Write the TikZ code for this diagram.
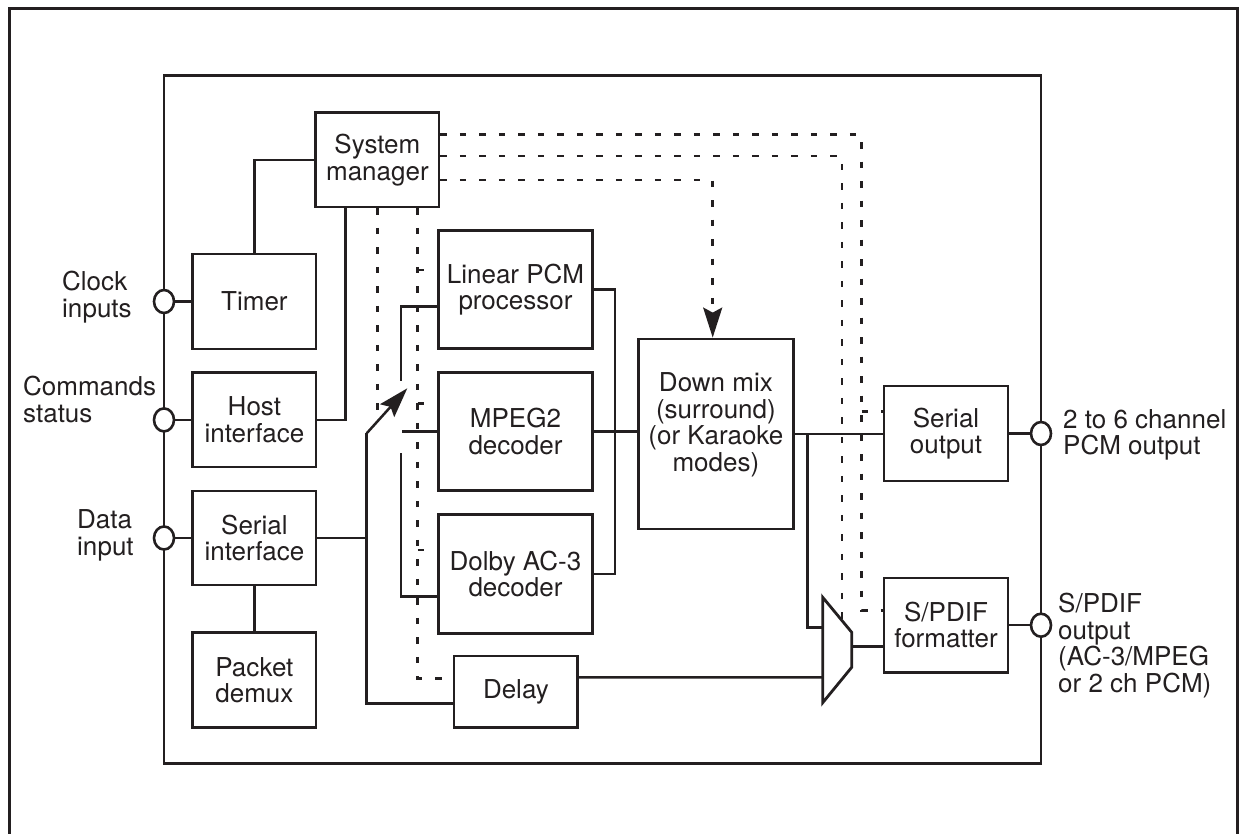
\documentclass[tikz,border=0pt]{standalone}
\usepackage{fontspec}
\setmainfont{TeX Gyre Heros}
\usetikzlibrary{arrows.meta,shapes.geometric,calc}
\definecolor{ink}{RGB}{35,31,32}
\begin{document}
\begin{tikzpicture}[x=1pt,y=-1pt,
  every node/.style={font=\fontsize{26}{26.5}\selectfont, text=ink},
  blk/.style={draw=ink, line width=2.8pt, align=center, inner sep=0pt},
  port/.style={draw=ink, fill=white, ellipse, line width=2.6pt, minimum width=20pt, minimum height=23pt, inner sep=0pt},
  wire/.style={draw=ink, line width=2.5pt},
  muxline/.style={draw=ink, line width=2.8pt, line join=miter},
  ctl/.style={draw=ink, line width=2.7pt, dash pattern=on 6.5pt off 13pt},
  tip/.style={-{Stealth[length=30pt,width=19pt,inset=5pt]}},
  lbl/.style={align=left, inner sep=0pt, anchor=north west},
  frame/.style={draw=ink, line width=2.8pt}]
\useasboundingbox (0,0) rectangle (1239,834);

% frames
\draw[frame] (9.5,834) -- (9.5,8.3) -- (1237.7,8.3) -- (1237.7,834);
\draw[frame] (164,75.3) rectangle (1041,763.3);

% blocks
\node[blk, minimum width=123.3pt, minimum height=94.3pt] (sysmgr) at (377.4,159.9) {System\\manager};
\node[blk, minimum width=123.3pt, minimum height=95pt] (timer) at (254.4,301.5) {Timer};
\node[blk, minimum width=123.3pt, minimum height=94.3pt] (host) at (254.4,419.9) {Host\\interface};
\node[blk, minimum width=123.3pt, minimum height=94pt] (serin) at (254.4,538) {Serial\\interface};
\node[blk, minimum width=123.3pt, minimum height=95.4pt] (packet) at (254.4,680) {Packet\\demux};
\node[blk, minimum width=154.4pt, minimum height=117.6pt] (lpcm) at (515.5,289.5) {Linear PCM\\processor};
\node[blk, minimum width=154.4pt, minimum height=118pt] (mpeg) at (515.5,431.7) {MPEG2\\decoder};
\node[blk, minimum width=154.4pt, minimum height=119pt] (dolby) at (515.5,573.8) {Dolby AC-3\\decoder};
\node[blk, minimum width=123.7pt, minimum height=71.7pt] (delay) at (515.9,691.9) {Delay};
\node[blk, minimum width=154.8pt, minimum height=190pt] (dmix) at (715.9,434) {};
\node[align=center, inner sep=0pt] (dmixt) at (715.9,425) {Down mix\\(surround)\\(or Karaoke\\modes)};
\node[blk, minimum width=124pt, minimum height=95pt] (serout) at (946,433.5) {Serial\\output};
\node[blk, minimum width=124pt, minimum height=94.3pt] (spdif) at (946,625.2) {S/PDIF\\formatter};

% ports
\node[port] (pclk) at (164,301.5) {};
\node[port] (pcmd) at (164,419.9) {};
\node[port] (pdata) at (164,538) {};
\node[port] (ppcm) at (1041,433.5) {};
\node[port] (pspdif) at (1041,625.2) {};

% port labels
\node[lbl] (lclk) at (62,271) {Clock\\inputs};
\node[lbl] (lcmd) at (23,376) {Commands\\status};
\node[lbl] (ldata) at (77,509.5) {Data\\input};
\node[lbl] (lpcmout) at (1063,409) {2 to 6 channel\\PCM output};
\node[lbl] (lspdif) at (1058,593) {S/PDIF\\output\\(AC-3/MPEG\\or 2 ch PCM)};

% solid wires
\draw[wire] (pclk) -- (timer);
\draw[wire] (pcmd) -- (host);
\draw[wire] (pdata) -- (serin);
\draw[wire] (timer.north) |- (sysmgr.west);
\draw[wire] (host.east) -| ([xshift=-31.7pt]sysmgr.south);
\draw[wire] (serin.south) -- (packet.north);

\coordinate (piv) at (366.7,433.3);
\coordinate (swtip) at (407.3,388.3);
\draw[wire] (serin.east) -- (serin.east -| piv);
\draw[wire] (piv) |- ([yshift=-11.4pt]delay.west);
\draw[wire, tip] (piv) -- (swtip);

\coordinate (cl) at (401,380.7);
\coordinate (cm) at (402.3,431.7);
\coordinate (cd) at (401,453.3);
\draw[wire] ([yshift=-17.2pt]lpcm.west) -| (cl);
\draw[wire] (cm) -- (mpeg.west);
\draw[wire] (cd) |- ([yshift=-22.9pt]dolby.west);

\coordinate (bus) at (615,289.5);
\draw[wire] (lpcm.east) -- (bus) |- (dolby.east);
\draw[wire] (mpeg.east) -- (mpeg.east -| dmix.west);

\draw[wire] (dmix.east) -- (dmix.east -| serout.west);
\coordinate (jn) at (807.7,434);
\coordinate (m1) at (822.7,597.3);
\coordinate (m2) at (851.7,632.3);
\coordinate (m3) at (851.7,667.3);
\coordinate (m4) at (822.7,702.7);
\draw[muxline] (m1) -- (m2) -- (m3) -- (m4) -- cycle;
\coordinate (muxin1) at (822.7,627.7);
\coordinate (muxin2) at (822.7,677.3);
\coordinate (muxout) at (851.7,646.7);
\draw[wire] (jn) |- (muxin1);
\draw[wire] ([yshift=14.6pt]delay.east) -- (muxin2);
\draw[wire] (muxout) -- (muxout -| spdif.west);
\draw[wire] (serout) -- (ppcm);
\draw[wire] (spdif) -- (pspdif);

% control (dashed) lines
\coordinate (c1) at (861.7,610.7);
\coordinate (cb1) at (861.7,411.5);
\coordinate (c2) at (842,620.6);
\coordinate (c4) at (377.4,410);
\draw[ctl] ([yshift=25.6pt]sysmgr.east) -| (c1) -- (c1 -| spdif.west);
\draw[ctl] (cb1) -- (cb1 -| serout.west);
\draw[ctl] ([yshift=3.9pt]sysmgr.east) -| (c2);
\draw[ctl, tip] ([yshift=-20.1pt]sysmgr.east) -| ([xshift=-3.2pt]dmix.north);
\draw[ctl] (sysmgr.south) -- (c4);
\draw[ctl] ([xshift=40.3pt]sysmgr.south) |- ([yshift=13.6pt]delay.west);
\coordinate (b1) at (417.7,270);
\coordinate (b2) at (417.7,403.3);
\coordinate (b3) at (417.7,550);
\draw[ctl] (b1) -- (b1 -| lpcm.west);
\draw[ctl] (b2) -- (b2 -| mpeg.west);
\draw[ctl] (b3) -- (b3 -| dolby.west);
\end{tikzpicture}
\end{document}
